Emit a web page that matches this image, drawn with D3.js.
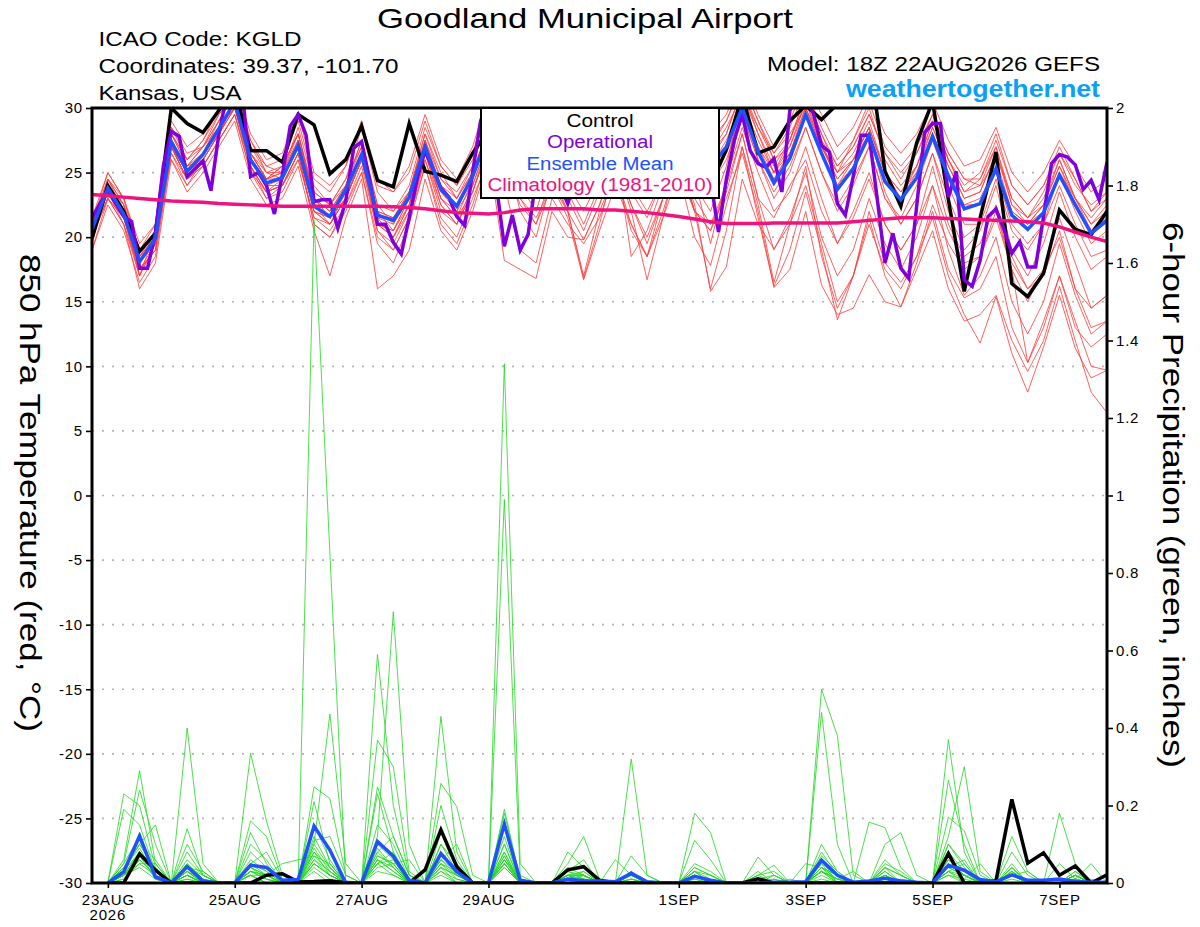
<!DOCTYPE html>
<html>
<head>
<meta charset="utf-8">
<script src="https://cdn.jsdelivr.net/npm/d3@7"></script>
<style>
  body { margin: 0; background: #fff; }
  svg { display: block; }
  text { font-family: "Liberation Sans", Arial, sans-serif; }
</style>
</head>
<body>
<svg id="chart"></svg>
<script>
// GEFS meteogram, Goodland KS, 850 hPa temperature + 6-hour precipitation

// ---- data ----
var runStart = Date.UTC(2026, 7, 22, 18);   // 18Z 22AUG2026
var runEnd = Date.UTC(2026, 8, 7, 18);      // 18Z 07SEP2026

var tickDates = ['2026-08-23', '2026-08-25', '2026-08-27', '2026-08-29',
                 '2026-09-01', '2026-09-03', '2026-09-05', '2026-09-07'];
var tickLabels = ['23AUG', '25AUG', '27AUG', '29AUG', '1SEP', '3SEP', '5SEP', '7SEP'];
var tempTicks = [-30, -25, -20, -15, -10, -5, 0, 5, 10, 15, 20, 25, 30];
var precipTicks = [0, 0.2, 0.4, 0.6, 0.8, 1, 1.2, 1.4, 1.6, 1.8, 2];

// 6-hourly, 18Z 22AUG .. 18Z 7SEP (65 values)
var controlTemp = [19.9,
  24.0, 22.0, 18.9, 20.3,  30.0, 28.8, 28.1, 29.8,  31.5, 26.7, 26.7, 25.8,  29.5, 28.7, 24.9, 26.0,
  28.6, 24.4, 23.9, 28.8,  25.1, 24.8, 24.3, 26.5,  28.3, 30.5, 28.5, 27.0,  29.0, 28.0, 26.0, 27.5,
  29.5, 27.5, 26.0, 28.0,  29.5, 26.5, 24.0, 26.8,  31.0, 26.5, 27.0, 29.0,  30.2, 29.1, 30.3, 32.0,
  34.0, 25.1, 22.4, 27.3,  30.5, 22.9, 15.8, 21.5,  26.6, 16.4, 15.4, 17.2,  22.1, 20.6, 20.2, 22.0];

var meanTemp = [20.6,
  23.8, 21.8, 18.1, 19.9,  27.4, 25.1, 26.4, 28.4,  30.5, 26.0, 24.2, 24.6,  27.1, 22.4, 21.6, 23.7,
  26.4, 21.7, 21.3, 23.1,  27.0, 23.7, 22.4, 24.7,  28.0, 28.5, 26.5, 25.5,  27.5, 26.0, 24.8, 26.5,
  27.8, 26.0, 25.0, 26.5,  27.8, 25.8, 25.5, 27.0,  30.0, 26.6, 24.2, 26.1,  29.5, 26.5, 23.7, 25.3,
  27.9, 24.3, 22.9, 24.6,  27.8, 24.7, 22.2, 22.6,  25.3, 21.7, 20.6, 21.9,  24.8, 22.5, 20.3, 21.3];

var climTemp = [23.3,
  23.2, 23.1, 23.0, 22.9,  22.8, 22.75, 22.7, 22.6,  22.55, 22.5, 22.45, 22.4,  22.4, 22.4, 22.4, 22.4,
  22.4, 22.4, 22.35, 22.3,  22.2, 22.05, 21.9, 21.85,  21.8, 21.9, 22.1, 22.2,  22.2, 22.2, 22.2, 22.1,
  22.1, 22.0, 21.9, 21.75,  21.6, 21.4, 21.2, 21.05,  21.05, 21.05, 21.1, 21.1,  21.1, 21.1, 21.1, 21.2,
  21.3, 21.4, 21.5, 21.5,  21.5, 21.45, 21.4, 21.35,  21.3, 21.25, 21.2, 21.1,  20.8, 20.4, 20.0, 19.65];

// operational run, 3-hourly (129 values)
var operTemp = [21.5,
  22.6, 23.6, 22.6, 21.6, 21.2, 17.6, 17.6, 20.3,  25.5, 28.2, 27.8, 24.7, 25.3, 25.9, 23.6, 28.0,
  31.0, 31.5, 31.0, 24.7, 25.0, 24.0, 21.8, 24.8,  28.6, 29.5, 27.9, 22.75, 22.9, 22.9, 20.7, 22.8,
  26.9, 27.4, 24.5, 21.0, 21.0, 19.6, 18.7, 21.5,  24.5, 26.7, 25.3, 23.8, 23.1, 21.6, 20.9, 25.0,
  29.0, 30.5, 24.0, 19.3, 21.7, 19.0, 20.2, 24.5,  26.0, 25.5, 24.0, 22.6, 24.5, 26.0, 27.0, 26.0,
  25.0, 27.0, 28.0, 26.5, 25.0, 26.0, 27.0, 28.0,  27.0, 25.5, 26.0, 28.0, 27.0, 24.5, 20.4, 24.5,
  27.5, 29.5, 26.7, 25.7, 25.4, 26.1, 23.5, 29.8,  30.8, 31.0, 29.5, 27.1, 26.6, 22.6, 21.7, 24.7,
  27.9, 27.9, 23.1, 18.0, 20.3, 17.6, 16.8, 22.4,  28.1, 28.8, 28.8, 23.1, 25.1, 16.7, 16.2, 18.2,
  21.6, 22.2, 20.6, 18.75, 19.65, 17.7, 17.7, 21.6, 25.7, 26.4, 26.2, 25.6, 23.7, 24.4, 22.9, 25.8];

// 20 ensemble members, 850 hPa temperature (65 values each)
var memberTemp = [
  [19.5, 24.5,22.0,17.0,20.5, 28.5,26.5,27.0,29.5, 31.0,27.0,25.5,25.0, 28.5,24.0,22.5,24.5, 27.0,22.5,21.0,23.5, 28.0,25.0,23.0,25.5, 29.5,30.0,27.5,26.0, 28.0,25.0,23.0,25.0, 27.0,24.5,23.0,25.0, 29.0,27.0,26.0,28.0, 31.5,28.0,25.0,27.0, 30.5,27.5,24.0,26.0, 28.0,23.5,21.0,23.0, 26.5,22.0,19.0,20.5, 24.0,19.0,17.0,19.5, 23.5,20.0,17.5,18.5],
  [21.0, 25.0,23.0,19.5,21.0, 26.0,24.0,26.0,28.0, 30.0,25.5,23.0,24.0, 26.5,21.0,20.0,22.5, 25.5,20.5,19.5,22.0, 26.0,22.5,21.0,24.0, 27.5,27.0,24.5,23.5, 26.5,24.0,22.0,24.5, 28.5,27.0,26.0,28.0, 30.5,28.0,27.0,29.0, 32.0,29.0,26.5,28.0, 30.0,27.0,25.0,27.5, 30.5,27.0,25.5,27.0, 29.5,26.0,23.5,24.5, 27.0,23.0,21.5,23.5, 26.5,24.5,22.0,23.5],
  [20.0, 23.0,21.0,17.5,19.0, 27.0,24.5,26.5,29.0, 31.5,26.5,24.5,25.5, 28.0,23.0,21.5,23.0, 26.0,20.5,19.0,21.5, 25.5,21.5,20.0,23.0, 26.0,24.0,19.0,18.0, 23.0,21.0,19.5,21.5, 25.0,21.0,18.5,22.0, 26.0,22.0,20.5,24.0, 28.0,23.0,19.0,21.5, 25.0,20.0,17.0,19.0, 23.0,19.5,17.5,20.0, 24.0,19.0,15.5,17.0, 20.0,15.0,12.5,15.0, 19.5,15.5,12.5,13.5],
  [21.5, 24.0,22.5,18.5,20.0, 28.0,26.0,27.5,29.5, 31.0,27.5,25.0,25.0, 27.5,23.5,22.5,24.5, 28.5,23.5,22.0,24.0, 28.5,25.5,24.0,26.0, 29.0,29.5,27.5,27.0, 29.0,27.5,26.0,27.5, 29.0,27.0,25.5,27.0, 28.0,25.0,24.5,26.5, 29.5,26.0,23.0,25.0, 28.5,25.0,22.0,24.0, 27.0,23.0,21.0,23.0, 26.5,23.0,20.0,21.0, 24.5,20.5,19.0,21.0, 25.0,22.0,19.5,20.5],
  [19.0, 22.5,20.5,16.5,18.5, 26.5,24.0,25.5,27.5, 29.5,25.0,23.0,23.5, 26.0,21.5,20.5,22.5, 25.0,20.0,19.0,21.5, 26.0,22.0,21.0,23.5, 27.0,27.5,25.5,24.5, 27.0,25.5,24.0,26.0, 28.0,25.5,24.0,26.0, 28.5,26.0,25.0,27.0, 30.5,27.0,25.0,27.5, 31.0,28.0,25.0,26.5, 29.0,25.0,23.0,25.5, 29.0,26.0,23.5,24.0, 27.0,22.5,21.0,22.5, 26.0,23.0,20.5,22.0],
  [20.5, 23.5,22.0,18.0,20.5, 27.5,25.5,26.0,28.0, 30.0,26.0,24.5,25.0, 28.0,23.0,22.0,24.0, 27.5,22.0,20.5,23.0, 27.0,23.0,21.5,24.5, 28.5,27.0,22.0,20.0, 24.5,22.0,16.8,21.0, 26.0,22.5,19.5,23.0, 25.0,20.0,17.8,22.5, 27.0,21.5,16.2,19.0, 23.5,19.0,13.6,17.0, 21.5,17.0,14.6,18.0, 22.0,17.5,15.3,16.0, 18.5,13.0,10.3,13.0, 17.0,13.5,10.0,9.7],
  [21.0, 24.5,23.0,19.0,21.0, 28.5,26.0,27.5,30.0, 32.0,27.5,25.5,26.0, 29.0,24.5,23.5,25.5, 29.0,24.0,23.5,25.5, 29.5,26.0,24.5,27.0, 31.0,31.0,28.5,27.5, 30.0,28.5,27.0,28.5, 30.5,28.5,27.0,28.5, 31.0,28.5,27.5,29.0, 32.0,29.0,26.0,27.0, 30.0,27.5,25.5,27.0, 29.5,26.5,25.0,26.5, 29.0,26.5,24.5,24.0, 26.0,22.0,21.0,22.5, 25.5,23.0,21.5,23.0],
  [20.0, 23.5,21.5,17.0,19.5, 27.0,25.0,26.0,28.0, 30.5,25.5,23.5,24.0, 26.5,21.0,20.0,22.0, 25.0,19.5,18.0,21.0, 25.5,21.0,19.5,22.5, 26.5,18.2,17.5,16.8, 22.0,20.0,19.8,22.5, 26.0,22.0,16.7,21.5, 26.5,22.0,20.5,23.5, 28.0,23.0,21.5,24.0, 26.0,22.0,19.5,22.0, 25.0,21.0,19.0,21.0, 25.5,21.0,18.5,19.5, 22.5,18.5,16.0,17.5, 21.5,18.0,14.5,15.5],
  [21.0, 24.0,22.0,18.5,19.5, 27.5,25.5,27.0,28.5, 30.0,26.5,25.0,24.5, 27.0,22.5,21.5,23.0, 26.0,21.5,21.5,23.5, 27.5,24.5,23.0,25.0, 28.0,29.0,27.0,26.5, 29.0,27.5,26.5,28.0, 29.5,28.0,27.0,28.0, 29.0,27.0,26.5,28.5, 31.0,28.5,26.5,28.5, 31.5,28.5,26.0,27.5, 30.0,26.0,24.0,25.5, 28.5,25.5,23.0,23.5, 26.5,23.0,21.5,23.0, 26.0,23.0,21.0,22.0],
  [20.5, 23.0,21.5,18.0,20.0, 27.0,24.5,26.0,28.0, 30.0,25.5,23.5,24.0, 26.0,21.5,21.0,23.0, 26.0,21.0,20.5,22.5, 26.5,23.0,22.0,24.0, 27.5,27.0,24.0,23.0, 26.0,23.0,20.5,23.5, 26.5,24.0,22.0,24.5, 26.0,22.5,15.8,17.7, 24.5,21.0,19.1,21.0, 25.5,18.5,14.5,17.0, 22.0,18.0,16.5,18.5, 21.5,17.0,14.0,11.8, 15.4,11.0,8.0,11.5, 15.5,11.4,9.1,9.7],
  [19.5, 24.0,21.5,17.5,19.0, 26.5,24.5,25.5,27.5, 29.5,25.0,23.5,24.5, 27.5,22.5,21.0,23.0, 26.5,21.5,20.0,22.5, 27.5,23.5,22.0,25.0, 28.5,28.5,26.5,25.5, 28.0,26.5,25.0,26.5, 28.5,26.5,25.5,27.0, 28.5,26.0,25.5,27.5, 30.5,27.5,25.0,26.5, 29.5,26.5,24.0,25.5, 28.0,24.5,23.0,25.0, 28.5,25.5,23.0,23.5, 26.5,22.5,21.5,22.5, 25.5,22.5,20.5,21.5],
  [21.5, 25.0,23.0,18.5,20.5, 29.0,27.0,28.0,30.0, 32.0,28.0,26.0,26.5, 29.5,25.0,24.0,25.5, 29.0,24.5,23.5,25.0, 29.0,25.5,24.0,26.5, 30.5,30.5,28.0,26.5, 28.5,26.5,25.0,27.0, 29.5,27.5,26.0,27.5, 29.5,27.0,26.5,28.0, 31.5,28.5,26.0,27.5, 30.5,27.0,24.5,26.0, 28.5,25.0,23.5,25.0, 28.0,25.0,22.5,22.5, 25.0,21.0,19.5,21.0, 24.0,21.0,18.5,19.0],
  [20.0, 23.5,22.0,17.5,19.5, 27.0,24.5,26.5,28.5, 30.0,26.0,24.0,24.5, 27.0,22.0,21.0,23.5, 26.5,21.0,20.0,22.0, 26.5,23.0,21.5,23.5, 27.0,26.0,23.0,21.0, 24.0,21.5,16.7,20.5, 24.0,21.0,18.5,21.5, 25.0,22.0,21.0,23.0, 26.5,22.0,16.1,17.5, 22.0,16.3,14.0,14.5, 17.1,15.0,14.6,17.5, 20.5,16.0,13.5,14.0, 15.5,12.0,9.6,12.0, 16.2,12.0,8.0,6.4],
  [20.5, 24.5,22.5,18.0,20.0, 28.0,25.5,26.5,28.5, 30.5,26.5,24.5,25.0, 27.5,23.0,22.0,24.0, 27.0,22.0,21.5,23.5, 27.5,24.0,22.5,25.0, 28.5,29.0,27.0,26.0, 28.5,27.0,25.5,27.0, 28.5,26.0,25.0,26.5, 28.0,25.5,25.0,27.0, 30.0,26.5,24.5,26.5, 30.0,27.0,24.5,26.0, 28.5,25.0,23.5,25.5, 29.0,26.0,24.0,25.0, 28.0,24.0,22.5,24.0, 27.0,24.5,22.0,23.0],
  [19.0, 23.0,21.0,16.0,18.0, 26.0,23.5,25.0,27.0, 29.0,24.5,22.5,23.0, 25.5,20.5,17.0,21.5, 24.5,16.0,17.0,19.0, 24.5,20.5,19.0,22.0, 26.0,25.5,23.0,21.5, 24.0,22.0,17.0,22.0, 25.0,20.5,18.5,23.0, 25.5,22.0,16.0,20.5, 27.0,22.5,16.5,21.0, 24.0,19.5,15.0,17.0, 21.0,17.5,16.0,18.5, 22.5,19.5,17.5,18.5, 22.0,18.0,16.0,17.0, 20.5,16.0,13.0,13.5],
  [21.0, 24.0,22.5,19.0,20.5, 28.0,26.0,27.0,29.0, 31.0,27.0,25.0,25.5, 28.0,23.5,22.5,24.0, 27.5,22.5,22.0,23.5, 28.0,24.5,23.5,25.5, 29.5,30.0,28.0,27.0, 29.5,28.0,26.5,28.0, 30.0,28.5,27.5,29.0, 31.0,29.0,28.0,29.5, 32.5,29.5,27.0,29.0, 32.0,29.5,27.0,28.5, 31.0,28.0,26.5,28.0, 30.5,27.5,25.5,26.0, 28.5,25.0,23.5,25.0, 27.5,25.5,23.5,24.5],
  [20.0, 23.5,21.0,17.0,19.5, 27.0,25.0,26.5,28.0, 30.5,26.0,24.0,24.0, 26.5,22.0,21.0,23.0, 26.0,21.0,20.0,22.5, 26.5,22.5,21.0,23.5, 27.5,28.0,25.5,24.5, 27.5,25.5,23.5,25.5, 27.5,25.0,23.5,25.5, 27.0,24.5,24.0,26.0, 29.5,26.0,23.5,25.5, 28.5,25.0,22.5,24.5, 27.0,23.0,21.5,24.0, 27.5,24.0,21.0,21.0, 22.0,17.5,15.0,17.5, 20.0,16.0,14.5,15.5],
  [20.5, 24.0,22.0,18.0,19.5, 27.5,25.0,26.5,28.5, 30.0,26.5,24.5,24.5, 27.0,22.0,21.5,23.5, 26.5,22.0,21.5,23.0, 27.0,24.0,23.0,25.0, 28.5,26.0,22.5,21.0, 25.0,22.0,19.8,22.5, 26.0,22.5,20.0,23.0, 26.5,23.0,21.0,24.0, 30.0,27.0,24.5,26.5, 29.5,27.0,25.0,26.0, 28.5,25.0,23.0,24.5, 27.5,24.5,22.5,23.0, 25.5,22.0,21.0,22.0, 25.0,23.0,21.0,22.5],
  [21.0, 24.5,22.5,18.5,20.0, 28.0,25.5,27.0,29.0, 31.0,26.5,24.5,25.5, 28.0,23.0,21.5,23.0, 26.0,21.0,20.5,23.0, 27.0,23.5,22.5,24.5, 28.0,28.0,25.0,24.0, 26.5,24.5,23.0,25.0, 27.0,18.5,20.5,24.0, 27.5,24.5,19.5,24.5, 28.5,25.0,22.0,23.5, 27.0,23.0,19.5,21.5, 24.5,21.0,19.0,21.0, 24.0,20.5,18.0,18.5, 21.5,17.5,10.3,13.5, 17.0,13.0,11.5,12.5],
  [20.0, 23.0,21.5,17.5,19.0, 27.0,24.5,25.5,27.5, 29.5,25.5,23.5,24.0, 26.5,22.0,21.5,23.5, 26.5,21.5,21.0,23.0, 27.0,23.5,22.5,24.5, 28.0,27.0,24.0,22.0, 26.0,23.5,21.0,24.0, 27.0,23.5,21.5,24.5, 27.5,24.0,22.0,25.5, 31.0,28.0,25.5,27.5, 31.0,28.0,25.5,27.0, 29.5,26.5,24.5,26.5, 29.5,26.5,24.5,24.5, 27.5,24.0,22.5,24.0, 26.5,24.0,22.5,23.5]
];

// 6-hour precipitation, 00Z 23AUG .. 18Z 7SEP (64 values)
var controlPrecip = [
  0, 0, 0.075, 0.033,  0, 0, 0, 0,  0, 0, 0.02, 0.024,  0.003, 0.004, 0.006, 0.001,
  0, 0, 0, 0,  0.034, 0.137, 0.042, 0,  0, 0, 0, 0,  0, 0.034, 0.042, 0.007,
  0, 0, 0, 0,  0, 0, 0, 0,  0, 0.011, 0, 0,  0, 0, 0, 0,
  0, 0, 0, 0,  0, 0.076, 0, 0,  0.006, 0.216, 0.051, 0.078,  0.02, 0.044, 0, 0.021];

var meanPrecip = [
  0, 0.029, 0.121, 0.016,  0, 0.042, 0.005, 0,  0, 0.046, 0.04, 0.007,  0.009, 0.147, 0.085, 0,
  0, 0.107, 0.069, 0.007,  0, 0.076, 0.029, 0,  0, 0.152, 0.007, 0,  0, 0.01, 0.006, 0.005,
  0.003, 0.025, 0.003, 0,  0, 0.017, 0.007, 0,  0, 0, 0.002, 0.002,  0.003, 0.059, 0.02, 0.002,
  0.005, 0.012, 0.005, 0.002,  0, 0.046, 0.033, 0.009,  0.003, 0.021, 0.007, 0.007,  0.01, 0.004, 0.002, 0.002];

var memberPrecip = [
  [0,0.06,0.29,0.05, 0,0.02,0,0, 0,0.03,0.01,0, 0,1.71,0.85,0, 0,0.05,0.02,0, 0,0.04,0.02,0, 0,0.12,0,0, 0,0.01,0.03,0, 0,0,0,0, 0,0.02,0,0, 0,0,0,0, 0,0.08,0.02,0, 0,0.03,0,0, 0,0.04,0.02,0, 0,0.01,0,0, 0,0.02,0,0],
  [0,0.23,0.2,0.04, 0,0.03,0,0, 0,0.02,0,0, 0,0.06,0.03,0, 0,0.59,0.2,0.02, 0,0.06,0.03,0, 0,0.05,0,0, 0,0,0.01,0, 0,0.02,0,0, 0,0,0,0, 0,0.01,0,0, 0,0.03,0.01,0, 0,0,0,0, 0,0.37,0.08,0, 0,0.03,0,0, 0,0,0.01,0],
  [0,0.05,0.24,0.1, 0,0.01,0,0, 0,0.04,0.02,0, 0,0.08,0.02,0, 0,0.12,0.70,0.1, 0,0.02,0,0, 0,0.06,0.01,0, 0,0,0,0, 0,0,0,0, 0,0.18,0.13,0, 0,0,0,0, 0,0.01,0,0, 0,0.02,0,0, 0,0.06,0.02,0, 0,0.02,0,0, 0,0.01,0,0],
  [0,0.03,0.12,0.02, 0,0.40,0.05,0, 0,0.02,0,0, 0,0.04,0.01,0, 0,0.03,0.02,0, 0,0.05,0.01,0, 0,1.34,0.05,0, 0,0.02,0.01,0, 0,0,0,0, 0,0.01,0,0, 0,0,0.02,0, 0,0.04,0,0, 0,0.01,0,0, 0,0.03,0.05,0, 0,0,0,0, 0.05,0.01,0,0],
  [0,0.02,0.08,0.01, 0,0.06,0.02,0, 0,0.335,0.16,0.02, 0,0.03,0,0, 0,0.08,0.04,0, 0,0.03,0,0, 0,0.99,0.02,0, 0,0.03,0.02,0, 0,0.01,0,0, 0,0.03,0,0, 0,0,0,0, 0,0.1,0.03,0, 0,0.02,0,0, 0,0.05,0.02,0, 0,0.04,0,0, 0,0,0,0],
  [0,0.01,0.06,0.02, 0,0.03,0,0, 0,0.05,0.02,0, 0,0.1,0.436,0.05, 0,0.06,0.03,0, 0,0.43,0.08,0, 0,0.04,0,0, 0,0,0.02,0, 0,0.02,0,0, 0,0,0,0, 0,0,0.01,0, 0,0.02,0,0, 0,0,0,0, 0,0.12,0.30,0.03, 0,0.02,0,0, 0,0.01,0,0],
  [0,0.04,0.1,0.03, 0,0.02,0,0, 0,0.06,0.03,0, 0,0.08,0.04,0, 0,0.369,0.3,0.03, 0,0.05,0.02,0, 0,0.1,0,0, 0,0.01,0,0, 0,0,0,0, 0,0.04,0.02,0, 0,0,0,0, 0,0.50,0.38,0.02, 0,0.04,0.02,0, 0,0.1,0.04,0, 0,0.03,0,0, 0,0.02,0,0],
  [0,0.02,0.07,0.01, 0,0.05,0.01,0, 0,0.08,0.04,0, 0,0.05,0.02,0, 0,0.1,0.06,0, 0,0.257,0.197,0.02, 0,0.06,0,0, 0,0.02,0,0, 0,0,0,0, 0,0.02,0,0, 0,0,0,0.01, 0,0.44,0.1,0, 0,0.06,0.02,0, 0,0.02,0,0, 0,0.02,0,0, 0,0,0,0],
  [0,0.03,0.13,0.02, 0,0.01,0,0, 0,0.04,0.01,0, 0,0.248,0.218,0.02, 0,0.07,0.05,0, 0,0.04,0,0, 0,0.07,0,0, 0,0.04,0.02,0, 0,0.32,0.02,0, 0,0.05,0.03,0, 0,0.03,0,0, 0,0.06,0,0, 0,0,0.01,0, 0,0.265,0.1,0, 0,0.05,0,0, 0,0.02,0,0],
  [0,0.19,0.15,0.03, 0,0.02,0,0, 0,0.02,0,0, 0,0.07,0.05,0, 0,0.248,0.12,0.02, 0,0.03,0.01,0, 0,0.08,0,0, 0,0.02,0,0, 0,0,0,0, 0,0.02,0,0, 0,0.02,0,0, 0,0.04,0.02,0, 0,0.03,0,0, 0,0.04,0.06,0, 0,0.12,0.03,0, 0,0.01,0,0],
  [0,0.04,0.09,0.02, 0,0.04,0.02,0, 0,0.16,0.12,0.01, 0,0.05,0.02,0, 0,0.06,0.03,0, 0,0.20,0.06,0, 0,0.05,0,0, 0,0.01,0.01,0, 0,0.01,0,0, 0,0,0,0, 0,0.02,0.03,0, 0,0.03,0.01,0, 0.157,0.143,0.04,0, 0,0.03,0.02,0, 0,0.02,0,0, 0,0,0,0],
  [0,0.02,0.08,0.04, 0,0.14,0.02,0, 0,0.03,0.02,0, 0,0.21,0.05,0, 0,0.23,0.08,0.01, 0,0.06,0.02,0, 0,0.04,0,0, 0,0.03,0.01,0, 0,0,0,0, 0,0.03,0,0, 0,0,0,0, 0,0.05,0,0, 0,0.1,0.13,0.02, 0,0.03,0,0, 0,0.04,0,0, 0,0.02,0,0],
  [0,0.05,0.12,0.03, 0,0.03,0,0, 0,0.13,0.05,0, 0,0.06,0.02,0, 0,0.08,0.12,0.02, 0,0.1,0.03,0, 0,0.19,0.01,0, 0,0.02,0.02,0, 0,0,0,0, 0,0.01,0,0, 0,0,0,0, 0,0.03,0,0, 0,0.01,0,0, 0,0.17,0.135,0.02, 0,0.03,0,0, 0,0,0,0],
  [0,0.03,0.1,0.15, 0,0.04,0.03,0, 0,0.05,0.03,0, 0,0.15,0.06,0, 0,0.09,0.04,0, 0,0.08,0.02,0, 0,0.18,0.01,0, 0,0.05,0.12,0.01, 0,0.02,0,0, 0,0.02,0,0, 0,0.01,0,0, 0,0.06,0.02,0, 0,0.04,0,0, 0,0.08,0.03,0, 0,0.02,0,0, 0.18,0.05,0,0],
  [0,0.04,0.1,0.06, 0,0.1,0.03,0, 0,0.04,0.02,0, 0,0.09,0.03,0, 0,0.15,0.1,0.01, 0,0.05,0.03,0, 0,0.08,0,0, 0,0.08,0.04,0, 0,0.03,0,0, 0,0.03,0.02,0, 0,0.067,0.02,0, 0,0.07,0.03,0, 0,0.02,0,0, 0,0.04,0.02,0, 0,0.03,0,0, 0,0.02,0,0],
  [0,0.02,0.06,0.02, 0,0.05,0.01,0, 0,0.1,0.06,0, 0,0.11,0.12,0.02, 0,0.07,0.05,0, 0,0.13,0.05,0, 0,0.07,0,0, 0,0.01,0.02,0, 0,0.01,0,0, 0,0.04,0.02,0, 0,0.02,0.046,0, 0,0.04,0.02,0, 0,0.05,0.03,0, 0,0.1,0.05,0, 0,0.04,0,0, 0,0.03,0,0],
  [0,0.03,0.08,0.02, 0,0.08,0.02,0, 0,0.05,0.08,0.01, 0,0.12,0.04,0, 0,0.05,0.08,0, 0,0.07,0.04,0, 0,0.1,0,0, 0,0.02,0.03,0, 0,0.03,0,0, 0,0.11,0.06,0, 0,0.01,0.02,0, 0,0.05,0.02,0, 0,0.04,0.02,0, 0,0.06,0.03,0, 0,0.08,0.02,0, 0,0.03,0,0],
  [0,0.02,0.05,0.05, 0,0.02,0,0, 0,0.03,0.02,0, 0,0.1,0.04,0, 0,0.06,0.04,0, 0,0.1,0.05,0, 0,0.05,0,0, 0,0.03,0.06,0, 0,0.02,0,0, 0,0.02,0,0, 0,0,0.01,0, 0,0.03,0,0, 0,0.02,0,0, 0,0.05,0.02,0, 0,0.02,0,0, 0,0.01,0.05,0],
  [0,0.01,0.05,0.02, 0,0.03,0.01,0, 0,0.02,0.02,0.05, 0.06,0.07,0.03,0, 0,0.05,0.06,0, 0,0.06,0.1,0, 0,0.06,0,0, 0,0.02,0.02,0, 0.06,0.02,0,0, 0,0.03,0.01,0, 0,0.01,0,0, 0.05,0.04,0.01,0, 0,0.02,0,0, 0,0.03,0.01,0, 0,0.02,0,0, 0,0.02,0,0],
  [0,0.02,0.04,0.01, 0,0.02,0,0, 0,0.03,0.01,0, 0,0.05,0.02,0, 0,0.04,0.05,0.06, 0,0.04,0.02,0, 0,0.05,0,0, 0,0.01,0.01,0, 0,0.07,0.02,0, 0,0.02,0,0, 0,0,0,0, 0,0.03,0.01,0.03, 0,0.01,0,0, 0,0.02,0.01,0.05, 0,0.02,0.03,0, 0,0.01,0,0]
];

var legendItems = ['Control', 'Operational', 'Ensemble Mean', 'Climatology (1981-2010)'];
var legendColors = ['#000000', '#8000dc', '#2050ff', '#ee1480'];

// ---- setup ----
var W = 1200, H = 927;
var plot = { left: 92, right: 1107, top: 108, bottom: 883 };

var svg = d3.select('#chart').attr('width', W).attr('height', H);

var times6 = d3.utcHour.every(6).range(new Date(runStart), new Date(runEnd + 1));
var times3 = d3.utcHour.every(3).range(new Date(runStart), new Date(runEnd + 1));
var precipTimes = times6.slice(1);

var x = d3.scaleUtc().domain([new Date(runStart), new Date(runEnd)]).range([plot.left, plot.right]);
var yT = d3.scaleLinear().domain([-30, 30]).range([plot.bottom, plot.top]);
var yP = d3.scaleLinear().domain([0, 2]).range([plot.bottom, plot.top]);

svg.append('defs').append('clipPath').attr('id', 'plotclip')
  .append('rect')
  .attr('x', plot.left).attr('y', plot.top)
  .attr('width', plot.right - plot.left).attr('height', plot.bottom - plot.top);

// dotted grid at temperature ticks
svg.append('g').selectAll('line')
  .data(tempTicks.filter(function(d) { return d > -30 && d < 30; }))
  .enter().append('line')
  .attr('x1', plot.left).attr('x2', plot.right)
  .attr('y1', function(d) { return yT(d); }).attr('y2', function(d) { return yT(d); })
  .attr('stroke', '#b4b4b4').attr('stroke-width', 1.6).attr('stroke-dasharray', '2,8');

var lines = svg.append('g').attr('clip-path', 'url(#plotclip)');

function tempLine(ts) {
  return d3.line().x(function(d, i) { return x(ts[i]); }).y(function(d) { return yT(d); });
}
var precipLine = d3.line()
  .x(function(d, i) { return x(precipTimes[i]); })
  .y(function(d) { return yP(d); });

// ensemble members
lines.append('g').selectAll('path').data(memberTemp).enter().append('path')
  .attr('d', tempLine(times6))
  .attr('fill', 'none').attr('stroke', '#ff3c3c').attr('stroke-width', 0.9).attr('opacity', 0.9);

lines.append('g').selectAll('path').data(memberPrecip).enter().append('path')
  .attr('d', precipLine)
  .attr('fill', 'none').attr('stroke', '#22d822').attr('stroke-width', 0.9).attr('opacity', 0.9);

// control / operational / mean
lines.append('path').datum(controlTemp).attr('d', tempLine(times6))
  .attr('fill', 'none').attr('stroke', '#000').attr('stroke-width', 3.5);
lines.append('path').datum(operTemp).attr('d', tempLine(times3))
  .attr('fill', 'none').attr('stroke', legendColors[1]).attr('stroke-width', 3.5);
lines.append('path').datum(meanTemp).attr('d', tempLine(times6))
  .attr('fill', 'none').attr('stroke', legendColors[2]).attr('stroke-width', 3.5);
lines.append('path').datum(climTemp).attr('d', tempLine(times6))
  .attr('fill', 'none').attr('stroke', legendColors[3]).attr('stroke-width', 3.5);

lines.append('path').datum(controlPrecip).attr('d', precipLine)
  .attr('fill', 'none').attr('stroke', '#000').attr('stroke-width', 3.5);
lines.append('path').datum(meanPrecip).attr('d', precipLine)
  .attr('fill', 'none').attr('stroke', legendColors[2]).attr('stroke-width', 3.5);

// ---- axes ----
function styleAxis(g) {
  g.select('.domain').remove();
  g.selectAll('.tick line').attr('stroke', '#000').attr('stroke-width', 1.6);
  g.selectAll('.tick text')
    .style('font-family', '"Liberation Sans", Arial, sans-serif')
    .style('font-size', '15px').style('letter-spacing', '0.8px').attr('fill', '#000');
}

svg.append('g').attr('transform', 'translate(' + plot.left + ',0)')
  .call(d3.axisLeft(yT).tickValues(tempTicks).tickSize(6).tickPadding(3)
    .tickFormat(function(d) { return String(d); }))
  .call(styleAxis);

svg.append('g').attr('transform', 'translate(' + plot.right + ',0)')
  .call(d3.axisRight(yP).tickValues(precipTicks).tickSize(6).tickPadding(3)
    .tickFormat(function(d) { return String(+d.toFixed(1)); }))
  .call(styleAxis);

var xTickDates = tickDates.map(function(s) { return new Date(s + 'T00:00:00Z'); });
svg.append('g').attr('transform', 'translate(0,' + plot.bottom + ')')
  .call(d3.axisBottom(x).tickValues(xTickDates).tickSize(5).tickPadding(6)
    .tickFormat(function(d, i) { return tickLabels[i]; }))
  .call(styleAxis);

svg.append('text')
  .attr('x', x(xTickDates[0])).attr('y', 920)
  .attr('text-anchor', 'middle')
  .style('font-size', '15px').style('letter-spacing', '0.8px')
  .text('2026');

// frame
svg.append('rect')
  .attr('x', plot.left).attr('y', plot.top)
  .attr('width', plot.right - plot.left).attr('height', plot.bottom - plot.top)
  .attr('fill', 'none').attr('stroke', '#000').attr('stroke-width', 3);

// ---- legend ----
var legend = svg.append('g');
legend.append('rect')
  .attr('x', 481).attr('y', plot.top).attr('width', 238).attr('height', 90)
  .attr('fill', '#fff').attr('stroke', '#000').attr('stroke-width', 2);
var legendLen = [67, 106, 147, 225];
legend.selectAll('text').data(legendItems).enter().append('text')
  .attr('x', 600).attr('y', function(d, i) { return 127 + i * 21.3; })
  .attr('text-anchor', 'middle')
  .attr('textLength', function(d, i) { return legendLen[i]; })
  .attr('lengthAdjust', 'spacingAndGlyphs')
  .attr('fill', function(d, i) { return legendColors[i]; })
  .style('font-size', '18px')
  .text(function(d) { return d; });

// ---- titles ----
function label(txt, xx, yy, size, len, anchor, color, weight) {
  return svg.append('text')
    .attr('x', xx).attr('y', yy)
    .attr('text-anchor', anchor || 'start')
    .attr('textLength', len).attr('lengthAdjust', 'spacingAndGlyphs')
    .attr('fill', color || '#000')
    .style('font-size', size + 'px').style('font-weight', weight || 'normal')
    .text(txt);
}

label('Goodland Municipal Airport', 377, 28, 28, 416);
label('ICAO Code: KGLD', 98.5, 46, 20.5, 203);
label('Coordinates: 39.37, -101.70', 98.5, 72.5, 20.5, 300);
label('Kansas, USA', 98.5, 99.5, 20.5, 143);
label('Model: 18Z 22AUG2026 GEFS', 767, 71, 20.5, 333);
label('weathertogether.net', 846, 97, 24, 254, 'start', '#0aa0f5', 'bold');

svg.append('text')
  .attr('transform', 'translate(20,493) rotate(90)')
  .attr('text-anchor', 'middle')
  .attr('textLength', 478).attr('lengthAdjust', 'spacingAndGlyphs')
  .style('font-size', '30px')
  .text('850 hPa Temperature (red, \u00B0C)');

svg.append('text')
  .attr('transform', 'translate(1163,495) rotate(90)')
  .attr('text-anchor', 'middle')
  .attr('textLength', 546).attr('lengthAdjust', 'spacingAndGlyphs')
  .style('font-size', '30px')
  .text('6-hour Precipitation (green, inches)');
</script>
</body>
</html>
